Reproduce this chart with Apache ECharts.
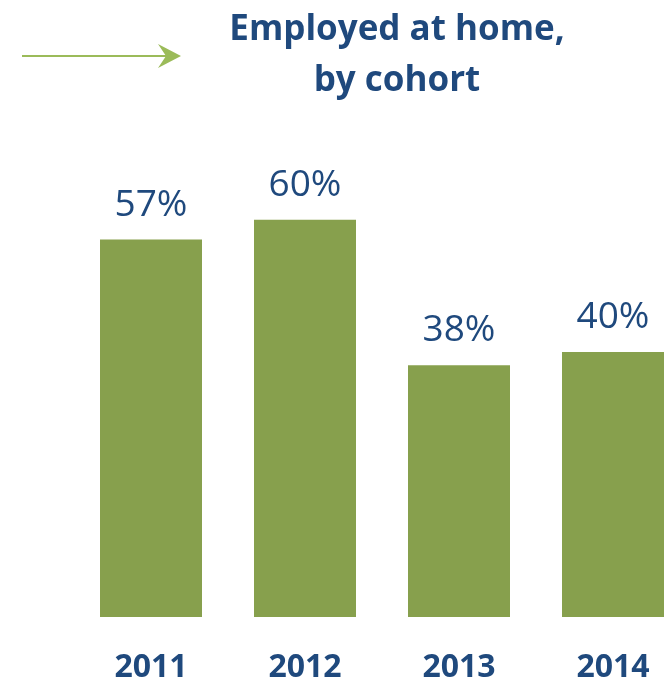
<!DOCTYPE html>
<html>
<head>
<meta charset="utf-8">
<script src="https://cdn.jsdelivr.net/npm/echarts@6/dist/echarts.min.js"></script>
<style>
  html, body { margin: 0; padding: 0; background: #ffffff; overflow: hidden; }
  #chart { width: 690px; height: 683px; }
</style>
</head>
<body>
<div id="chart"></div>
<script>
// Share of each cohort employed at home
const cohorts = ['2011', '2012', '2013', '2014'];
const employedAtHome = [57, 60, 38, 40];

const navy = '#1F497D';
const barGreen = '#87A04D';
const arrowGreen = '#9BBB59';
const font = '"Open Sans", "Liberation Sans", sans-serif';

const chart = echarts.init(document.getElementById('chart'));
chart.setOption({
  animation: false,
  title: {
    text: 'Employed at home,\nby cohort',
    left: 392,
    top: 0,
    textAlign: 'center',
    textStyle: {
      fontFamily: font,
      fontWeight: 'bold',
      fontSize: 35,
      lineHeight: 51,
      color: navy
    }
  },
  graphic: [
    {
      type: 'line',
      shape: { x1: 22, y1: 56, x2: 172, y2: 56 },
      style: { stroke: arrowGreen, lineWidth: 2 }
    },
    {
      type: 'polygon',
      shape: { points: [[158, 44], [181, 56], [158, 68], [166, 56]] },
      style: { fill: arrowGreen }
    }
  ],
  grid: { left: 74, right: 0, top: 21, bottom: 66, outerBoundsMode: 'none', containLabel: false },
  xAxis: {
    type: 'category',
    data: cohorts,
    axisLine: { show: false },
    axisTick: { show: false },
    axisLabel: {
      margin: 35,
      fontFamily: font,
      fontWeight: 'bold',
      fontSize: 32,
      color: navy
    }
  },
  yAxis: {
    type: 'value',
    min: 0,
    max: 90,
    show: false,
    splitLine: { show: false }
  },
  series: [{
    type: 'bar',
    data: employedAtHome,
    barWidth: 102,
    itemStyle: { color: barGreen },
    label: {
      show: true,
      position: 'top',
      distance: 16,
      formatter: '{c}%',
      fontFamily: font,
      fontSize: 37,
      color: navy
    }
  }]
});
</script>
</body>
</html>
